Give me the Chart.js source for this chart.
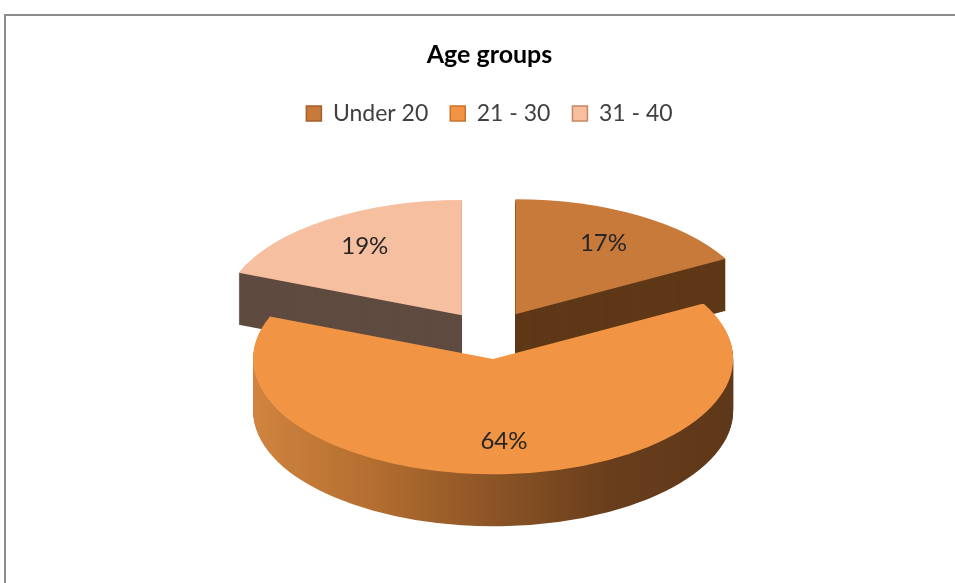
<!DOCTYPE html>
<html>
<head>
<meta charset="utf-8">
<script src="https://cdn.jsdelivr.net/npm/chart.js@4.4.1/dist/chart.umd.min.js"></script>
<style>
  html, body { margin: 0; padding: 0; background: #fff; overflow: hidden; }
  #frame { position: absolute; left: 4px; top: 14px; width: 1000px; height: 700px;
           border-top: 2px solid #8c8c8c; border-left: 2px solid #8c8c8c; }
  #myChart { position: absolute; left: 0; top: 0; }
</style>
</head>
<body>
<div id="frame"></div>
<canvas id="myChart" width="955" height="583"></canvas>
<script>
// data
const labels = ['Under 20', '21 - 30', '31 - 40'];
const shares = [17, 64, 19];

// colours: top faces, legend box edges, side walls
const topColors = ['#C77A3A', '#F19444', '#F5BFA0'];
const legendBorders = ['#A65E27', '#C8732C', '#C9875E'];
const wallColors = ['#5F3818', null, '#5F4B40']; // null = gradient wall

// fake 3d look
const pieX = 490, pieY = 335;
const tilt = 0.48;
const explode = 50;
const depth = 52;

function wallGradient(ctx, arc) {
  const g = ctx.createLinearGradient(arc.x - arc.outerRadius, 0, arc.x + arc.outerRadius, 0);
  g.addColorStop(0, '#D0843F');
  g.addColorStop(0.25, '#B46E30');
  g.addColorStop(0.5, '#8C5426');
  g.addColorStop(0.75, '#683D1C');
  g.addColorStop(1, '#5E381A');
  return g;
}

const pie3d = {
  id: 'pie3d',
  beforeDatasetsDraw(chart) {
    const ctx = chart.ctx;
    const arcs = chart.getDatasetMeta(0).data;

    const place = function(arc, drop) {
      const mid = (arc.startAngle + arc.endAngle) / 2;
      ctx.translate(pieX, pieY + drop);
      ctx.scale(1, tilt);
      ctx.translate(Math.cos(mid) * explode, Math.sin(mid) * explode);
      ctx.translate(-arc.x, -arc.y);
    };

    // back slices first
    const order = arcs.map((a, i) => i).sort(function(i, j) {
      const mi = (arcs[i].startAngle + arcs[i].endAngle) / 2;
      const mj = (arcs[j].startAngle + arcs[j].endAngle) / 2;
      return Math.sin(mi) - Math.sin(mj);
    });

    order.forEach(function(i) {
      const arc = arcs[i];
      const o = arc.options;
      const bg = o.backgroundColor;
      o.backgroundColor = wallColors[i] || wallGradient(ctx, arc);
      for (let d = depth; d >= 1; d--) {
        ctx.save();
        place(arc, d);
        arc.draw(ctx);
        ctx.restore();
      }
      o.backgroundColor = bg;
      ctx.save();
      place(arc, 0);
      arc.draw(ctx);
      ctx.restore();
    });
    return false;
  },
  afterDraw(chart) {
    const ctx = chart.ctx;
    const arcs = chart.getDatasetMeta(0).data;
    ctx.save();
    ctx.font = '24px Lato';
    ctx.fillStyle = '#262626';
    ctx.textAlign = 'center';
    ctx.textBaseline = 'middle';
    arcs.forEach(function(arc, i) {
      const mid = (arc.startAngle + arc.endAngle) / 2;
      const r = explode + arc.outerRadius * 0.72;
      ctx.fillText(shares[i] + '%', pieX + Math.cos(mid) * r, pieY + Math.sin(mid) * r * tilt);
    });
    ctx.restore();
  }
};

const myChart = new Chart(document.getElementById('myChart'), {
  type: 'pie',
  data: {
    labels: labels,
    datasets: [{
      data: shares,
      backgroundColor: topColors,
      borderWidth: 0,
      hoverOffset: 0,
      radius: 240
    }]
  },
  options: {
    responsive: false,
    animation: false,
    events: [],
    layout: { padding: { left: 24 } },
    plugins: {
      title: {
        display: true,
        text: 'Age groups',
        color: '#000',
        font: { family: 'Lato', size: 25, weight: 'bold' },
        padding: { top: 40, bottom: 10 }
      },
      legend: {
        position: 'top',
        labels: {
          color: '#404040',
          font: { family: 'Lato', size: 23 },
          boxWidth: 15,
          boxHeight: 15,
          padding: 22,
          generateLabels(chart) {
            const items = Chart.overrides.doughnut.plugins.legend.labels.generateLabels(chart);
            items.forEach(function(it, i) {
              it.strokeStyle = legendBorders[i];
              it.lineWidth = 1.5;
            });
            return items;
          }
        }
      },
      tooltip: { enabled: false }
    }
  },
  plugins: [pie3d]
});
</script>
</body>
</html>
